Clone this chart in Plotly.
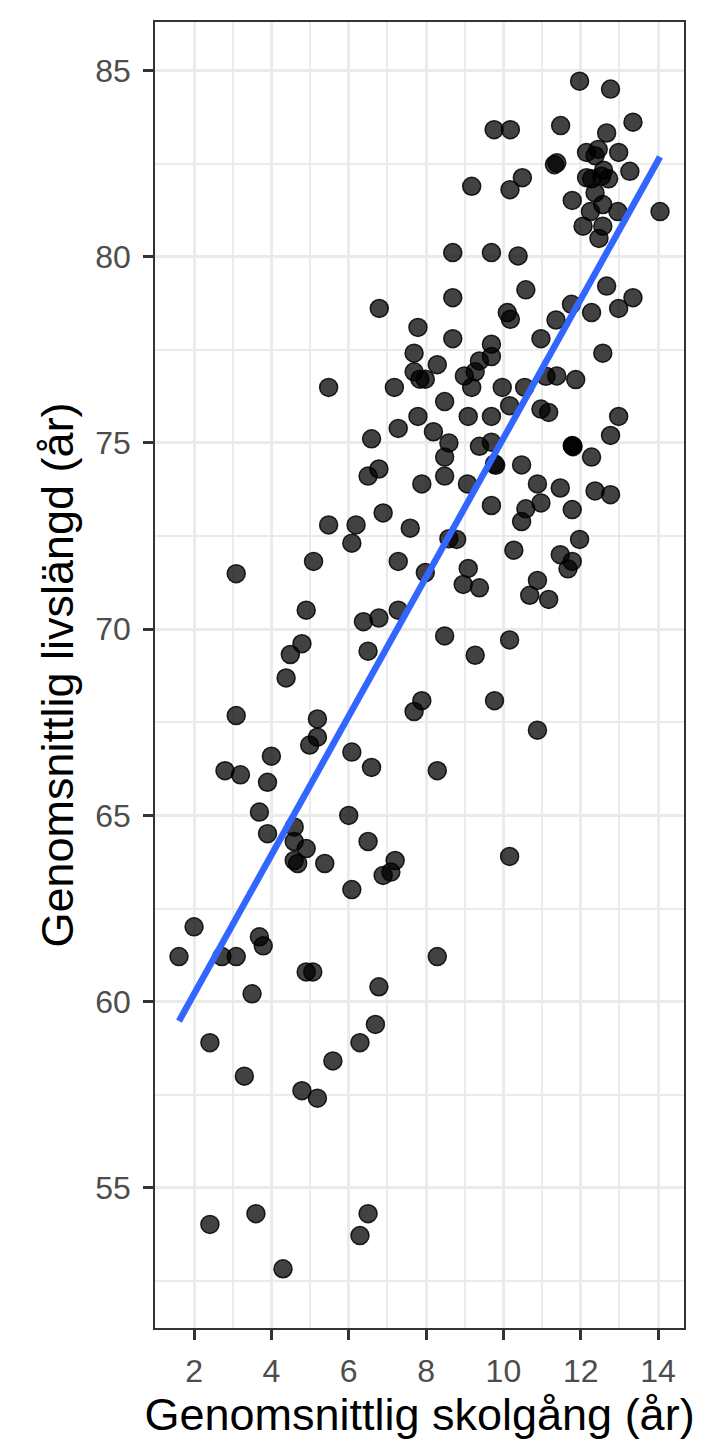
import plotly.graph_objects as go

# skolgång (år) och livslängd (år)
skolgang = [
    11.97, 12.77, 9.76, 10.18, 11.48, 13.35, 12.67, 12.15, 12.45, 12.37, 12.98, 11.32, 11.38,
    12.59, 13.27, 12.15, 12.28, 12.54, 12.72, 9.18, 10.49, 10.17, 12.37, 11.78, 12.57, 12.96,
    12.25, 14.05, 12.06, 12.57, 12.47, 8.69, 9.69, 10.38, 10.58, 12.67, 13.35, 8.69, 6.79,
    10.10, 10.18, 11.36, 11.76, 12.28, 12.98, 7.79, 8.69, 9.69, 10.97,
    7.69, 12.57, 9.69, 9.38, 8.29, 7.69, 7.84, 7.98, 9.27, 8.99, 9.18, 5.48, 7.18, 9.97, 10.55,
    11.10, 11.38, 11.87, 8.48, 10.16, 10.97, 11.17, 12.98, 7.79, 9.09, 9.69, 7.28, 8.19, 6.59,
    8.59, 9.38, 9.69, 12.77, 11.78, 11.80, 11.79, 12.28, 8.48, 9.77, 9.80, 10.47, 6.78, 6.50, 8.48,
    7.89, 9.07, 10.88, 11.47, 12.37, 12.77, 10.97, 9.69, 11.78, 10.58, 10.47, 6.89, 5.48, 6.19,
    6.08, 7.59, 8.59, 8.79, 11.97, 10.27, 11.47, 11.78, 11.67, 7.28, 5.09, 3.09, 9.09, 8.96,
    9.38, 10.88, 10.68, 11.17, 7.98, 4.90, 7.28, 6.38, 6.78, 8.48, 10.16, 9.27, 4.79, 4.49, 6.50,
    4.38, 7.89, 7.69, 9.77, 3.09, 5.19, 10.88, 5.19, 4.99, 4.00, 6.08, 6.59, 8.29, 2.80, 3.20,
    3.90, 3.69, 6.00, 3.90, 4.59, 4.59, 4.90, 4.59, 4.68, 5.38, 6.50, 7.20, 7.09, 6.89, 10.16,
    6.08, 2.00, 3.69, 3.79, 1.61, 2.72, 3.09, 8.29, 4.90, 5.07, 6.78, 3.50,
    2.41, 6.69, 6.29, 5.59, 3.30, 4.79, 5.19, 2.41, 3.60, 6.50, 6.29, 4.30,
]
livslangd = [
    84.71, 84.50, 83.41, 83.41, 83.52, 83.61, 83.32, 82.80, 82.88, 82.71, 82.80, 82.47, 82.52,
    82.32, 82.29, 82.12, 82.09, 82.16, 82.09, 81.89, 82.12, 81.80, 81.71, 81.51, 81.40, 81.21,
    81.21, 81.21, 80.82, 80.82, 80.49, 80.11, 80.11, 80.02, 79.11, 79.21, 78.90, 78.90, 78.61,
    78.50, 78.32, 78.30, 78.72, 78.50, 78.61, 78.10, 77.80, 77.65, 77.80,
    77.41, 77.41, 77.32, 77.20, 77.10, 76.91, 76.71, 76.71, 76.91, 76.80, 76.49, 76.49, 76.49,
    76.49, 76.49, 76.79, 76.80, 76.70, 76.11, 76.00, 75.91, 75.82, 75.71, 75.71, 75.71, 75.71,
    75.39, 75.30, 75.11, 75.00, 74.91, 75.02, 75.20, 74.93, 74.90, 74.92, 74.62, 74.62, 74.44, 74.40,
    74.41, 74.30, 74.11, 74.11, 73.90, 73.90, 73.90, 73.79, 73.71, 73.61, 73.39, 73.32, 73.21,
    73.23, 72.89, 73.12, 72.80, 72.80, 72.31, 72.71, 72.43, 72.41, 72.41, 72.12, 72.00, 71.82,
    71.62, 71.82, 71.82, 71.49, 71.63, 71.20, 71.11, 71.31, 70.91, 70.80, 71.52, 70.51, 70.51,
    70.20, 70.30, 69.82, 69.71, 69.30, 69.61, 69.32, 69.41,
    68.69, 68.08, 67.79, 68.08, 67.68, 67.59, 67.29, 67.10, 66.89, 66.59, 66.70, 66.29, 66.20,
    66.20, 66.09, 65.89, 65.09, 65.00, 64.51, 64.69, 64.30, 64.11, 63.79, 63.71, 63.71, 64.30,
    63.79, 63.48, 63.39, 63.90, 63.01, 62.01, 61.74, 61.50, 61.21, 61.21, 61.21, 61.21, 60.80,
    60.80, 60.40, 60.21,
    58.90, 59.39, 58.90, 58.41, 58.00, 57.61, 57.41, 54.02, 54.31, 54.31, 53.72, 52.83,
]

# regressionslinjen (lm), ändpunkter avlästa
linje_x = [1.61, 14.05]
linje_y = [59.48, 82.68]

x_ticks = [2, 4, 6, 8, 10, 12, 14]
y_ticks = [55, 60, 65, 70, 75, 80, 85]

FONT = "Liberation Sans, Arial, sans-serif"

# sidan har 8 px marginal i webbläsaren, därför 712 x 1448
punkter = go.Scatter(
    x=skolgang,
    y=livslangd,
    mode="markers",
    marker=dict(
        size=18,
        color="rgba(0,0,0,0.74)",
        line=dict(color="rgba(0,0,0,0.85)", width=1.5),
    ),
    showlegend=False,
)

linje = go.Scatter(
    x=linje_x,
    y=linje_y,
    mode="lines",
    line=dict(color="#3366FF", width=6.5),
    showlegend=False,
)

axel = dict(
    showgrid=True,
    gridcolor="#EBEBEB",
    gridwidth=2.5,
    zeroline=False,
    ticks="outside",
    ticklen=10,
    tickwidth=2.5,
    tickcolor="#333333",
    tickfont=dict(size=32, color="#4D4D4D", family=FONT),
    showline=True,
    linecolor="#333333",
    linewidth=1.5,
    mirror=True,
)

layout = go.Layout(
    width=712,
    height=1448,
    margin=dict(l=147, r=36, t=14, b=128),
    paper_bgcolor="white",
    plot_bgcolor="white",
    font=dict(family=FONT),
    xaxis=dict(
        axel,
        range=[0.99, 14.67],
        tickvals=x_ticks,
        ticktext=[str(v) for v in x_ticks],
        minor=dict(dtick=1, tick0=1, showgrid=True, gridcolor="#EBEBEB", gridwidth=1.8),
        ticklabelstandoff=4,
        title=dict(
            text="Genomsnittlig skolgång (år)",
            font=dict(size=45, color="black", family=FONT),
            standoff=4,
        ),
    ),
    yaxis=dict(
        axel,
        range=[51.24, 86.30],
        tickvals=y_ticks,
        ticktext=[str(v) for v in y_ticks],
        minor=dict(dtick=2.5, tick0=52.5, showgrid=True, gridcolor="#EBEBEB", gridwidth=1.8),
        ticklabelstandoff=6,
        title=dict(
            text="Genomsnittlig livslängd (år)",
            font=dict(size=45, color="black", family=FONT),
            standoff=8,
        ),
    ),
)

fig = go.Figure(data=[punkter, linje], layout=layout)
fig.write_html("out.html")
